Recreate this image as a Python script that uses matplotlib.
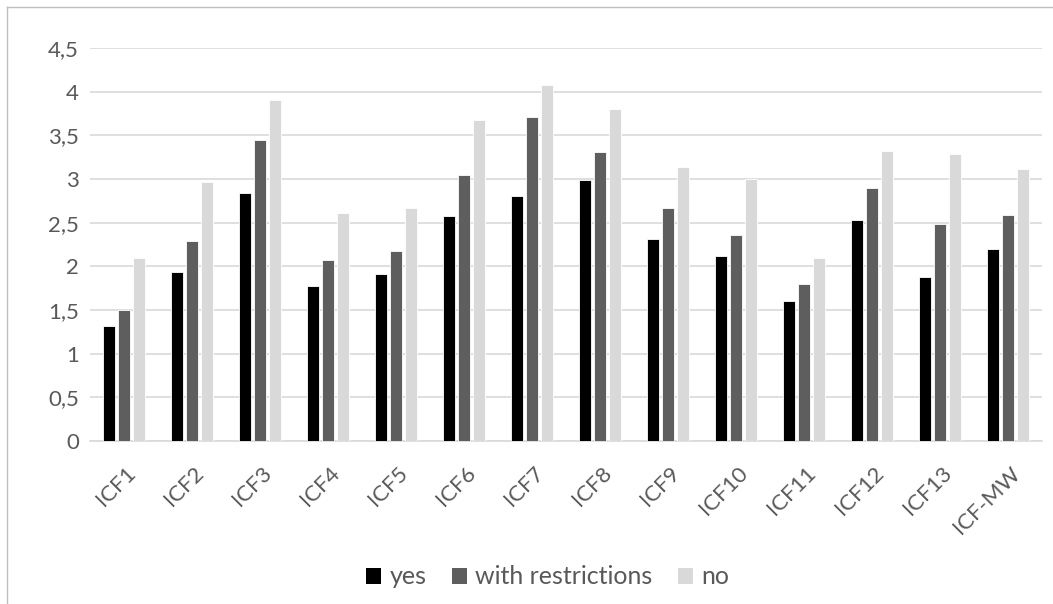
import matplotlib.pyplot as plt
import numpy as np
from matplotlib.lines import Line2D
from matplotlib.patches import Patch

categories = ["ICF1", "ICF2", "ICF3", "ICF4", "ICF5", "ICF6", "ICF7",
              "ICF8", "ICF9", "ICF10", "ICF11", "ICF12", "ICF13", "ICF-MW"]
yes = [1.32, 1.94, 2.84, 1.77, 1.91, 2.58, 2.81,
       2.99, 2.31, 2.12, 1.60, 2.53, 1.88, 2.20]
with_restrictions = [1.50, 2.29, 3.45, 2.07, 2.17, 3.05, 3.71,
                     3.31, 2.67, 2.36, 1.80, 2.90, 2.49, 2.59]
no = [2.10, 2.96, 3.91, 2.61, 2.67, 3.67, 4.08,
      3.80, 3.14, 3.00, 2.09, 3.32, 3.29, 3.12]
series_labels = ["yes", "with restrictions", "no"]
y_ticks = [0, 0.5, 1, 1.5, 2, 2.5, 3, 3.5, 4, 4.5]

colors = ["#000000", "#5e5e5e", "#d9d9d9"]
text_color = "#595959"
font = "Lato"
fsize = 16

fig = plt.figure(figsize=(10.53, 6.04), dpi=100)
ax = fig.add_axes([90 / 1053, 1 - 441 / 604, 952 / 1053, 393 / 604])

x = np.arange(len(categories))
width = 0.17
step = 0.22
for i, (vals, color) in enumerate(zip([yes, with_restrictions, no], colors)):
    ax.bar(x + (i - 1) * step, vals, width, color=color,
           edgecolor="white", linewidth=0.6, zorder=3)

ax.set_xlim(-0.5, len(categories) - 0.5)
ax.set_ylim(0, 4.5)
ax.set_yticks(y_ticks)
ax.set_yticklabels([f"{t:g}".replace(".", ",") for t in y_ticks],
                   fontsize=fsize, color=text_color, family=font)
ax.set_xticks(x)
ax.set_xticklabels([])
# rotated category labels, placed like Excel's
for xi, name in zip(x, categories):
    ax.annotate(name, xy=(xi, 0), xycoords=ax.get_xaxis_transform(),
                xytext=(9, -29), textcoords="offset pixels",
                rotation=45, ha="right", va="center", rotation_mode="anchor",
                fontsize=fsize, color=text_color, family=font)
ax.tick_params(axis="both", length=0)
ax.tick_params(axis="y", pad=8)
ax.grid(axis="y", color="#d9d9d9", linewidth=1.2, zorder=0)
for side in ["top", "right", "left"]:
    ax.spines[side].set_visible(False)
ax.spines["bottom"].set_color("#d9d9d9")
ax.spines["bottom"].set_linewidth(1.2)

handles = [Patch(facecolor=c, edgecolor="none") for c in colors]
fig.legend(handles, series_labels, loc="center", bbox_to_anchor=(0.52, 1 - 577 / 604),
           ncol=3, frameon=False, handlelength=0.6, handleheight=0.6,
           handletextpad=0.35, columnspacing=1.0,
           prop={"family": font, "size": 18}, labelcolor=text_color)

# chart area border (left and top visible)
fig.add_artist(Line2D([7 / 1053, 7 / 1053], [0, 1 - 7 / 604],
                      transform=fig.transFigure, color="#bfbfbf", linewidth=1))
fig.add_artist(Line2D([7 / 1053, 1], [1 - 7 / 604, 1 - 7 / 604],
                      transform=fig.transFigure, color="#bfbfbf", linewidth=1))

fig.savefig("out.png", dpi=100)
